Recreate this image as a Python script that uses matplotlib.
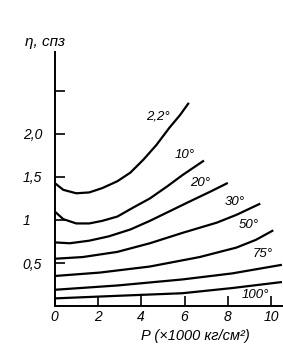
import matplotlib.pyplot as plt

# viscosity of water vs pressure, one curve per temperature
labels = ["2,2°", "10°", "20°", "30°", "50°", "75°", "100°"]

p_22 = [0, 0.4, 1.0, 1.6, 2.2, 2.9, 3.5, 4.1, 4.7, 5.3, 5.8, 6.2]
eta_22 = [1.43, 1.35, 1.31, 1.32, 1.37, 1.45, 1.55, 1.70, 1.87, 2.07, 2.22, 2.36]

p_10 = [0, 0.4, 1.0, 1.6, 2.2, 2.9, 3.6, 4.4, 5.2, 5.9, 6.9]
eta_10 = [1.10, 1.01, 0.96, 0.96, 0.99, 1.04, 1.14, 1.25, 1.39, 1.52, 1.69]

p_20 = [0, 0.7, 1.6, 2.5, 3.5, 4.4, 5.3, 6.2, 7.2, 8.0]
eta_20 = [0.74, 0.73, 0.76, 0.81, 0.89, 0.99, 1.10, 1.21, 1.33, 1.43]

p_30 = [0, 1.3, 2.9, 4.4, 5.9, 7.5, 8.4, 9.5]
eta_30 = [0.55, 0.57, 0.63, 0.73, 0.85, 0.97, 1.06, 1.19]

p_50 = [0, 2.1, 4.4, 6.7, 8.4, 9.3, 10.1]
eta_50 = [0.35, 0.39, 0.46, 0.57, 0.68, 0.77, 0.88]

p_75 = [0, 2.9, 5.9, 8.2, 10.5]
eta_75 = [0.19, 0.24, 0.31, 0.38, 0.48]

p_100 = [0, 2.9, 5.9, 8.2, 10.5]
eta_100 = [0.09, 0.12, 0.15, 0.21, 0.28]

# label anchor points (data coords)
lab_x = [4.76, 6.0, 6.7, 8.3, 8.95, 9.6, 9.25]
lab_y = [2.20, 1.76, 1.43, 1.21, 0.94, 0.61, 0.13]

xticks = [0, 2, 4, 6, 8, 10]
yticks = [0.5, 1.0, 1.5, 2.0, 2.5]
ytick_labels = ["0,5", "1", "1,5", "2,0", ""]

plt.rcParams['font.family'] = ['Liberation Sans', 'DejaVu Sans']

fig = plt.figure(figsize=(2.83, 3.56), dpi=100)
ax = fig.add_axes([0.193, 0.14, 0.807, 0.714])

curves = [(p_22, eta_22), (p_10, eta_10), (p_20, eta_20), (p_30, eta_30),
          (p_50, eta_50), (p_75, eta_75), (p_100, eta_100)]
for (px, py) in curves:
    ax.plot(px, py, color='black', lw=1.6, solid_capstyle='butt',
            solid_joinstyle='round')

for i in range(len(labels)):
    ax.text(lab_x[i], lab_y[i], labels[i], fontsize=9.5, style='italic',
            ha='center', va='center')

ax.set_xlim(0, 10.55)
ax.set_ylim(0, 2.95)
ax.spines['top'].set_visible(False)
ax.spines['right'].set_visible(False)
ax.spines['left'].set_linewidth(1.4)
ax.spines['bottom'].set_linewidth(1.4)

ax.set_xticks(xticks)
ax.set_xticklabels([str(t) for t in xticks], style='italic', fontsize=10)
ax.set_yticks(yticks)
ax.set_yticklabels(ytick_labels, style='italic', fontsize=10)
for lbl in ax.get_yticklabels():
    lbl.set_horizontalalignment('left')
ax.tick_params(direction='in', length=7, width=1.2)
ax.tick_params(axis='x', pad=2.5)
ax.tick_params(axis='y', pad=23)

# axis captions
fig.text(0.69, 0.055, "P (×1000 кг/см²)", style='italic', fontsize=10.5,
         ha='center', va='center')
fig.text(0.088, 0.882, "η, спз", style='italic', fontsize=11,
         ha='left', va='center')

fig.savefig("out.png", dpi=100)
